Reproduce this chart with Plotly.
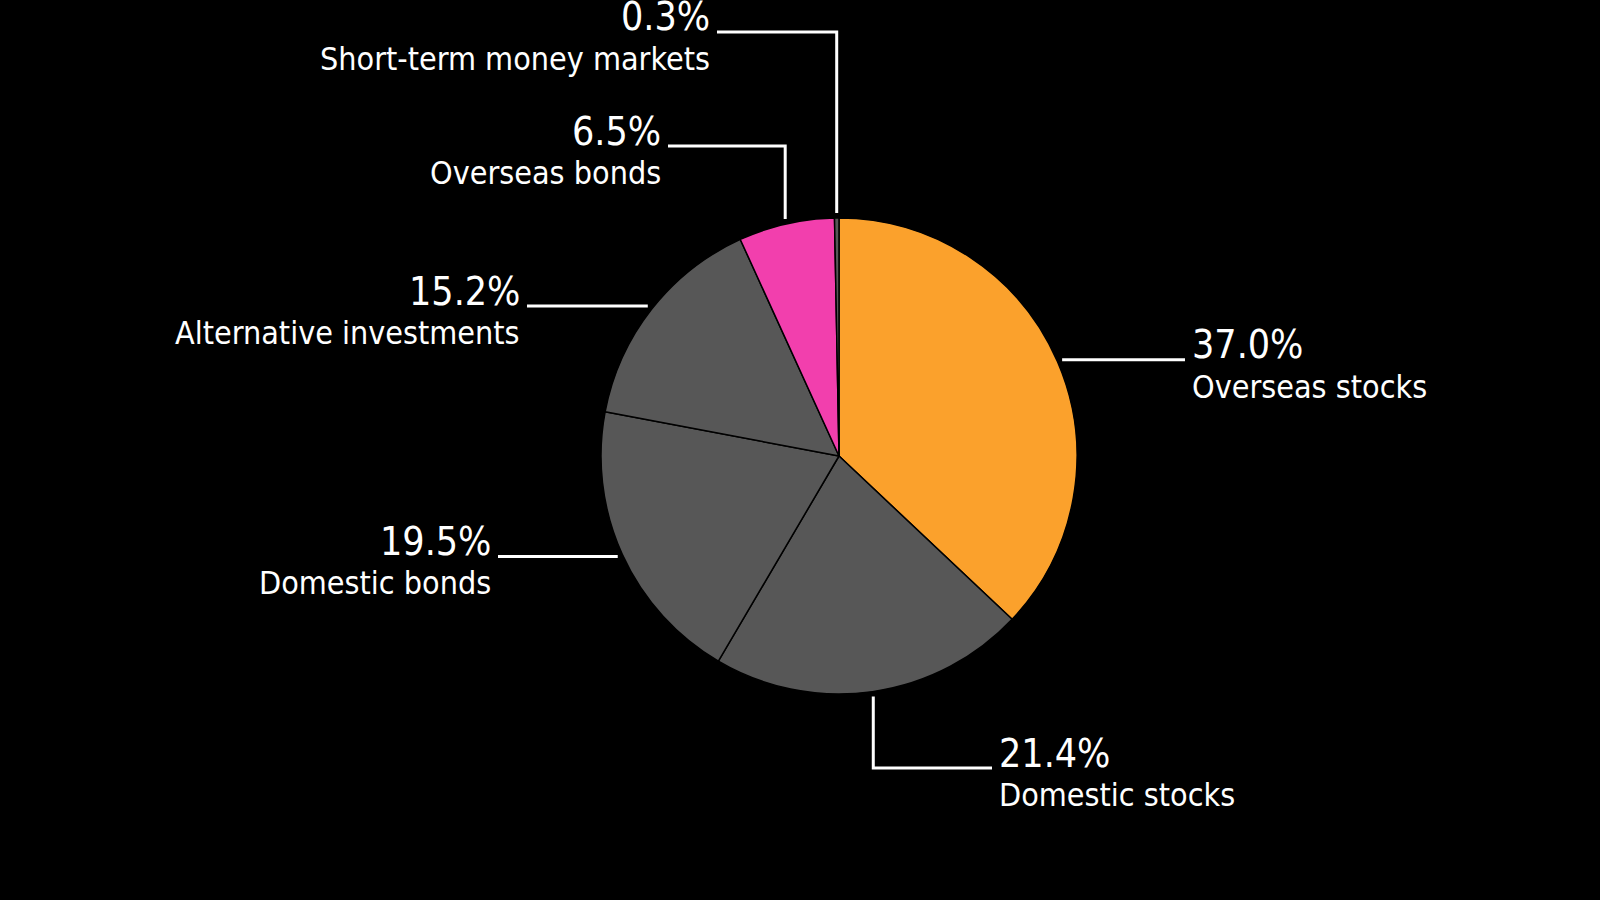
import math
import plotly.graph_objects as go

# data
labels = ["Overseas stocks", "Domestic stocks", "Domestic bonds",
          "Alternative investments", "Overseas bonds", "Short-term money markets"]
shares = [37.0, 21.4, 19.5, 15.2, 6.5, 0.3]

ORANGE = "#FBA12C"
GREY = "#575757"
PINK = "#F23FAD"
colors = [ORANGE, GREY, GREY, GREY, PINK, GREY]

W, H = 1600, 900
CX, CY, R = 839, 456, 238   # pie centre / radius in pixels

# callout layout: text x (px), elbow y (px or None), side of the text
callouts = {
    "Overseas stocks": (1190, None, "right"),
    "Domestic stocks": (997, 768, "right"),
    "Domestic bonds": (493, None, "left"),
    "Alternative investments": (522, None, "left"),
    "Overseas bonds": (663, 146, "left"),
    "Short-term money markets": (712, 32, "left"),
}

PCT_FONT = dict(family="DejaVu Sans Condensed, DejaVu Sans", size=39, color="white")
LBL_FONT = dict(family="DejaVu Sans Condensed, DejaVu Sans", size=32, color="white")


def px(x, y):
    return x / W, 1 - y / H


fig = go.Figure(go.Pie(
    labels=labels, values=shares, sort=False, direction="clockwise", rotation=0,
    marker=dict(colors=colors, line=dict(color="black", width=1.5)),
    textinfo="none", hoverinfo="label+value", showlegend=False,
    domain=dict(x=[(CX - R) / W, (CX + R) / W],
                y=[1 - (CY + R) / H, 1 - (CY - R) / H]),
))

total = sum(shares)
cum = 0.0
shapes, annos = [], []
for lab, val in zip(labels, shares):
    mid = (cum + val / 2) / total * 2 * math.pi
    cum += val
    ax = CX + (R + 5) * math.sin(mid)
    ay = CY - (R + 5) * math.cos(mid)
    tx, ly, side = callouts[lab]
    gap = 5 if side == "right" else -5
    pts = [(ax, ay)]
    if ly is not None:
        pts.append((ax, ly))
    else:
        ly = ay
    pts.append((tx - gap, ly))
    path = "M " + " L ".join(f"{px(x, y)[0]:.5f},{px(x, y)[1]:.5f}" for x, y in pts)
    shapes.append(dict(type="path", xref="paper", yref="paper", path=path,
                       line=dict(color="white", width=3)))
    anchor = "left" if side == "right" else "right"
    x0, y0 = px(tx, ly - 15)
    annos.append(dict(x=x0, y=y0, xref="paper", yref="paper", showarrow=False,
                      text=f"{val:.1f}%", font=PCT_FONT, xanchor=anchor, yanchor="middle"))
    x1, y1 = px(tx, ly + 27)
    annos.append(dict(x=x1, y=y1, xref="paper", yref="paper", showarrow=False,
                      text=lab, font=LBL_FONT, xanchor=anchor, yanchor="middle"))

fig.update_layout(
    width=W, height=H, margin=dict(l=0, r=0, t=0, b=0),
    paper_bgcolor="black", plot_bgcolor="black",
    shapes=shapes, annotations=annos,
)

# drop the default page margin so the figure sits flush in the window
fig.write_html("out.html", config={"displayModeBar": False},
               post_script="document.body.style.margin='0';"
                           "document.body.style.background='black';")
